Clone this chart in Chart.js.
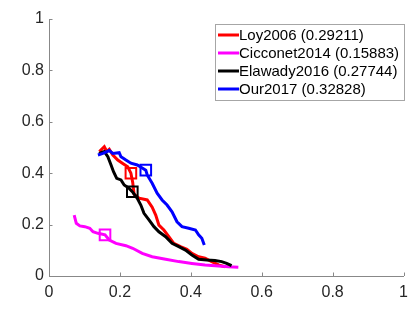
<!DOCTYPE html>
<html>
<head>
<meta charset="utf-8">
<script src="https://cdn.jsdelivr.net/npm/chart.js@4.4.0/dist/chart.umd.min.js"></script>
<style>
  body { margin: 0; background: #fff; }
</style>
</head>
<body>
<canvas id="prChart" width="415" height="321"></canvas>
<script>
const seriesNames = ['Loy2006 (0.29211)', 'Cicconet2014 (0.15883)', 'Elawady2016 (0.27744)', 'Our2017 (0.32828)'];
const seriesColors = ['#ff0000', '#ff00ff', '#000000', '#0000ff'];

// recall (x) / precision (y) points
const loyX = [0.142, 0.156, 0.163, 0.170, 0.180, 0.194, 0.208, 0.222, 0.231, 0.236, 0.240, 0.254, 0.277, 0.291, 0.301, 0.310, 0.324, 0.338, 0.352, 0.371, 0.389, 0.403, 0.422, 0.440, 0.459, 0.478, 0.496];
const loyY = [0.484, 0.503, 0.485, 0.493, 0.471, 0.451, 0.438, 0.425, 0.400, 0.365, 0.318, 0.303, 0.296, 0.268, 0.237, 0.198, 0.179, 0.153, 0.127, 0.114, 0.104, 0.088, 0.075, 0.069, 0.056, 0.043, 0.036];

const cicX = [0.071, 0.077, 0.087, 0.101, 0.115, 0.124, 0.138, 0.158, 0.170, 0.189, 0.217, 0.236, 0.263, 0.291, 0.329, 0.366, 0.403, 0.440, 0.478, 0.506, 0.534];
const cicY = [0.237, 0.205, 0.195, 0.192, 0.186, 0.172, 0.166, 0.160, 0.140, 0.127, 0.118, 0.108, 0.088, 0.075, 0.065, 0.056, 0.049, 0.043, 0.039, 0.036, 0.034];

const elaX = [0.141, 0.156, 0.166, 0.175, 0.182, 0.191, 0.203, 0.212, 0.226, 0.235, 0.249, 0.259, 0.268, 0.282, 0.296, 0.310, 0.329, 0.347, 0.366, 0.385, 0.403, 0.422, 0.445, 0.468, 0.487, 0.501, 0.515];
const elaY = [0.477, 0.484, 0.464, 0.432, 0.406, 0.380, 0.374, 0.354, 0.341, 0.328, 0.302, 0.276, 0.244, 0.218, 0.192, 0.172, 0.153, 0.127, 0.114, 0.101, 0.082, 0.065, 0.062, 0.060, 0.056, 0.049, 0.040];

const ourX = [0.138, 0.152, 0.170, 0.180, 0.198, 0.203, 0.217, 0.231, 0.249, 0.273, 0.277, 0.291, 0.305, 0.319, 0.333, 0.347, 0.361, 0.375, 0.394, 0.413, 0.422, 0.431, 0.438];
const ourY = [0.471, 0.477, 0.488, 0.477, 0.480, 0.464, 0.451, 0.439, 0.432, 0.412, 0.393, 0.361, 0.322, 0.296, 0.276, 0.250, 0.211, 0.192, 0.186, 0.179, 0.160, 0.147, 0.121];

// square marker on each curve
const markerX = [0.231, 0.158, 0.235, 0.273];
const markerY = [0.400, 0.160, 0.328, 0.412];

const tickValues = [0, 0.2, 0.4, 0.6, 0.8, 1];

const fontFamily = "'Liberation Sans', Arial, Helvetica, sans-serif";

function toPoints(xs, ys) {
  return xs.map((x, i) => ({x: x, y: ys[i]}));
}

const curves = [[loyX, loyY], [cicX, cicY], [elaX, elaY], [ourX, ourY]];

const datasets = [];
curves.forEach((c, i) => {
  datasets.push({
    label: seriesNames[i],
    data: toPoints(c[0], c[1]),
    showLine: true,
    borderColor: seriesColors[i],
    borderWidth: 3,
    pointRadius: 0,
    tension: 0,
    order: 4 - i
  });
});
curves.forEach((c, i) => {
  datasets.push({
    label: 'marker',
    data: [{x: markerX[i], y: markerY[i]}],
    showLine: false,
    pointStyle: 'rect',
    pointRadius: 7.5,
    pointBorderWidth: 2,
    pointBorderColor: seriesColors[i],
    pointBackgroundColor: 'rgba(0,0,0,0)',
    order: 0
  });
});

// MATLAB style tick marks pointing into the axes
const inwardTicks = {
  id: 'inwardTicks',
  afterDatasetsDraw(chart) {
    const ctx = chart.ctx;
    const xs = chart.scales.x, ys = chart.scales.y;
    ctx.save();
    ctx.strokeStyle = '#888888';
    ctx.lineWidth = 1;
    ctx.beginPath();
    tickValues.forEach(v => {
      const px = Math.round(xs.getPixelForValue(v)) + 0.5;
      ctx.moveTo(px, ys.bottom);
      ctx.lineTo(px, ys.bottom - 3.5);
      const py = Math.round(ys.getPixelForValue(v)) + 0.5;
      ctx.moveTo(xs.left, py);
      ctx.lineTo(xs.left + 3.5, py);
    });
    ctx.stroke();
    ctx.restore();
  }
};

// legend box drawn inside the plot, upper right
const boxLegend = {
  id: 'boxLegend',
  afterDraw(chart) {
    const ctx = chart.ctx;
    const left = 215.5, top = 24.5, w = 189, h = 76;
    ctx.save();
    ctx.fillStyle = '#ffffff';
    ctx.fillRect(left, top, w, h);
    ctx.strokeStyle = '#a6a6a6';
    ctx.lineWidth = 1;
    ctx.strokeRect(left, top, w, h);
    ctx.font = '15px ' + fontFamily;
    ctx.textBaseline = 'middle';
    ctx.textAlign = 'left';
    seriesNames.forEach((name, i) => {
      const y = 35 + i * 18;
      ctx.strokeStyle = seriesColors[i];
      ctx.lineWidth = 3;
      ctx.beginPath();
      ctx.moveTo(218, y);
      ctx.lineTo(239, y);
      ctx.stroke();
      ctx.fillStyle = '#000000';
      ctx.fillText(name, 239, y + 1);
    });
    ctx.restore();
  }
};

new Chart(document.getElementById('prChart'), {
  type: 'scatter',
  data: { datasets: datasets },
  options: {
    responsive: false,
    animation: false,
    layout: { padding: { left: 0, top: 19, right: 8, bottom: 0 } },
    plugins: {
      legend: { display: false },
      tooltip: { enabled: false }
    },
    scales: {
      x: {
        type: 'linear',
        min: 0,
        max: 1,
        afterBuildTicks: (scale) => { scale.ticks = tickValues.map(v => ({value: v})); },
        afterFit: (scale) => { scale.height = 45; },
        grid: { drawOnChartArea: false, drawTicks: false },
        border: { color: '#888888', width: 1 },
        ticks: {
          padding: 7,
          maxRotation: 0,
          color: '#262626',
          font: { family: fontFamily, size: 16 },
          callback: (value) => String(value)
        }
      },
      y: {
        type: 'linear',
        min: 0,
        max: 1,
        afterBuildTicks: (scale) => { scale.ticks = tickValues.map(v => ({value: v})); },
        afterFit: (scale) => { scale.width = 49; },
        grid: { drawOnChartArea: false, drawTicks: false },
        border: { color: '#888888', width: 1 },
        ticks: {
          padding: 5,
          color: '#262626',
          font: { family: fontFamily, size: 16 },
          callback: (value) => String(value)
        }
      }
    }
  },
  plugins: [inwardTicks, boxLegend]
});
</script>
</body>
</html>
